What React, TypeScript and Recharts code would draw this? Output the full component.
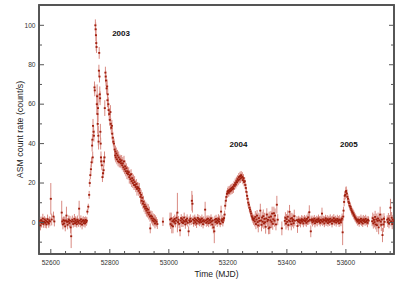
import React from "react";
import { ScatterChart, Scatter, XAxis, YAxis, ErrorBar, ReferenceDot, ReferenceArea } from "recharts";

// [MJD, ASM rate (count/s), 1-sigma error]
type Obs = [number, number, number];

const quiet2002: Obs[] = [
  [52563, 0.8, 2.0], [52565, -1.5, 2.5], [52567, 1.2, 1.8], [52569, -0.4, 2.2], [52571, 0.6, 1.6],
  [52573, 2.0, 2.4], [52575, -0.8, 1.9], [52577, 0.3, 2.1], [52579, 1.5, 1.7], [52581, -0.2, 2.6],
  [52583, 0.9, 1.5], [52585, -1.0, 2.0], [52587, 0.4, 1.8], [52589, 1.7, 2.3], [52591, 0.1, 1.6],
  [52593, -0.6, 2.1], [52595, 1.1, 1.9], [52597, 0.5, 2.4], [52600, 12, 8], [52603, 1.5, 3],
  [52609, 3, 2.5], [52612, 0.5, 2.5],
  [52637, 5, 6], [52639, 0.5, 2], [52641, -1, 2.5], [52643, 1.2, 1.8], [52645, -0.5, 2],
  [52647, 0.8, 2.2], [52649, -2, 2.5], [52651, 1, 1.9], [52653, 3.5, 4.5], [52655, 0.3, 2],
  [52657, -1.2, 2.3], [52659, 0.6, 1.7], [52661, 1.5, 2.1], [52663, -0.3, 2], [52665, 0.9, 2.4],
  [52667, -2.5, 3], [52669, -7, 6], [52671, 0.4, 2], [52673, 1.3, 2.2], [52676, -0.8, 1.8],
  [52678, 0.5, 2], [52680, 1.8, 2.5], [52682, -0.4, 1.9], [52684, 1.1, 2], [52686, 0.2, 2.3],
  [52688, -0.9, 1.7], [52690, 1.4, 2.1], [52692, 0.6, 1.8], [52694, -0.2, 2], [52696, 7, 4],
  [52698, 0.9, 2.2], [52700, -0.6, 1.9], [52702, 1.6, 2], [52704, 0.3, 1.8], [52706, -1.1, 2.4],
  [52708, 0.8, 1.7], [52710, 1.2, 2], [52712, -0.3, 1.9], [52714, 0.7, 2], [52716, -0.5, 2.1],
  [52718, 1.3, 1.8], [52720, 0.2, 2], [52722, 0.9, 1.9],
];

const outburst2003: Obs[] = [
  [52724, 5.5, 1.5], [52727, 8, 1.5], [52730, 14, 2], [52732, 20, 2], [52734, 24, 2],
  [52736, 27, 2.5], [52738, 30.5, 2.5], [52740, 39, 3], [52741, 42, 3], [52742, 33, 3],
  [52743, 49, 3.5], [52745, 46, 3], [52746, 44, 3], [52748, 68.5, 3], [52749, 67, 3],
  [52751, 100, 3], [52752, 98, 3.5], [52753, 95, 3], [52754, 91, 4], [52755, 89, 3],
  [52756, 60, 5], [52757, 64, 6], [52758, 55, 6], [52759, 50, 5], [52760, 58, 7],
  [52761, 44, 5], [52762, 41, 4], [52763, 77, 3], [52764, 86, 3], [52765, 74, 3],
  [52766, 65, 4], [52767, 63, 3.5], [52768, 46, 4], [52769, 40, 3], [52770, 33, 3],
  [52771, 31, 2.5], [52773, 29, 2.5], [52775, 23, 2.5], [52777, 25, 2.5], [52779, 26.5, 2.5],
  [52780, 31, 2.5], [52782, 33, 3], [52783, 58, 4], [52785, 76, 3], [52786, 74, 3],
  [52787, 72, 3], [52789, 68, 3], [52791, 69, 3.5], [52792, 62, 3.5], [52793, 65, 3],
  [52795, 60, 3.5], [52796, 57, 3], [52798, 55, 3], [52800, 52, 3], [52802, 56, 3.5],
  [52803, 50, 3], [52805, 48, 3], [52807, 49, 3], [52808, 45, 3], [52810, 43, 3],
  [52812, 41, 2.5], [52814, 40, 2.5], [52816, 37, 2.5], [52818, 34, 2.5], [52819, 36, 3],
];

const decay2003: Obs[] = [
  [52820, 33, 2.5], [52822, 35, 3], [52824, 32, 2.5], [52826, 34, 2.8], [52828, 31, 2.5],
  [52830, 33, 3], [52832, 30.5, 2.6], [52834, 32, 2.5], [52836, 31, 3], [52838, 30, 2.5],
  [52840, 31.5, 2.7], [52842, 29, 2.5], [52844, 30, 3.2], [52846, 28, 2.5], [52848, 31, 2.8],
  [52850, 27, 2.5], [52852, 28.5, 3], [52854, 26, 2.6], [52856, 27.5, 2.5], [52858, 25, 3],
  [52860, 26, 2.5], [52862, 24.5, 2.8], [52864, 25.5, 2.5], [52866, 23, 3.3], [52868, 24, 2.5],
  [52870, 22, 2.7], [52872, 24.5, 2.5], [52874, 21, 3], [52876, 22.5, 2.6], [52878, 20, 2.5],
  [52880, 21.5, 2.8], [52882, 19, 2.5], [52884, 20.5, 3], [52886, 19, 2.5], [52888, 18, 2.6],
  [52890, 19.5, 2.5], [52892, 17, 3.4], [52894, 18, 2.5], [52896, 17.5, 2.7], [52898, 16, 2.5],
  [52900, 17, 3], [52902, 15, 2.5], [52904, 13, 3.5], [52906, 14, 2.6], [52908, 11, 2.5],
  [52910, 12.5, 2.8], [52912, 9.5, 2.5], [52914, 10.5, 3], [52916, 8, 2.6], [52918, 9, 2.5],
  [52920, 7, 2.8], [52922, 8, 2.5], [52924, 6, 3], [52926, 7, 2.6], [52928, 5, 2.5],
  [52930, 6.5, 2.8], [52932, 4, 2.5], [52934, 5, 3], [52936, 3, 2.6], [52937, -3, 2.5],
  [52939, 3.5, 2.6], [52941, 2, 2.5], [52943, 3, 2.8], [52945, 1, 2.5], [52947, 2, 2.6],
  [52949, 0.5, 2.5], [52951, 1.5, 2.7], [52953, -0.5, 2.5], [52955, 1, 2.6], [52958, 0.3, 2.4],
  [52961, -0.8, 2.5], [52980, 0.4, 2.2],
];

const quiet2003: Obs[] = [
  [53004, 1.5, 3.5], [53006, -0.8, 2.5], [53008, 2.0, 3], [53010, -1.5, 4], [53012, 0.6, 2],
  [53014, -2.0, 3.5], [53016, 1.2, 2], [53018, 0.3, 1.8], [53020, 1.8, 2.2], [53022, -0.5, 2],
  [53024, 0.9, 1.7], [53026, 2.4, 2.3], [53029, 5, 10], [53031, 0.2, 2], [53033, 1.4, 1.9],
  [53035, -0.7, 2.1], [53038, -4, 3], [53040, 1.0, 1.8], [53042, 2.2, 2], [53044, 0.1, 2.4],
  [53046, 1.6, 1.7], [53048, -0.3, 2], [53050, 0.8, 1.9], [53052, 2.5, 2.5], [53054, 0.4, 1.8],
  [53056, -1.0, 2.2], [53058, 1.3, 2], [53060, 0.6, 1.7], [53062, 2.0, 2.1], [53064, -0.2, 1.9],
  [53067, -4.5, 2.5], [53069, 1.1, 2], [53071, 0.3, 1.8], [53073, 1.9, 2.2], [53076, 0.7, 2],
  [53078, 11, 5], [53080, 9.5, 4.5], [53082, 1.5, 2], [53084, -0.4, 1.8], [53086, 0.9, 2.1],
  [53088, 2.1, 1.9], [53090, 0.2, 2], [53092, 1.4, 1.7], [53094, -0.6, 2.2], [53096, 1.0, 1.8],
  [53098, 2.3, 2], [53100, 0.5, 1.9], [53102, 1.7, 2.1], [53104, -0.1, 1.8], [53106, 0.8, 2],
  [53108, 1.5, 1.7], [53110, 0.1, 2.3], [53112, 2.0, 2], [53114, 0.7, 1.8], [53116, -0.9, 2.1],
  [53118, 1.2, 1.9], [53120, 0.4, 2], [53123, 6.5, 4], [53125, 1.0, 1.8], [53127, -0.2, 2],
  [53129, 1.6, 1.9], [53131, 0.5, 2.2], [53133, 1.9, 1.7], [53135, -0.4, 2], [53137, 0.9, 1.8],
  [53139, 1.3, 2.1], [53141, 0.0, 1.9], [53143, 2.1, 2], [53145, 0.6, 1.8], [53147, -1.1, 2.3],
  [53149, 1.0, 1.9], [53151, -2.5, 3], [53154, -4.5, 6], [53156, 1.4, 2], [53158, 0.2, 1.8],
  [53160, 1.8, 2.1], [53162, 0.6, 1.9], [53164, -0.3, 2], [53166, 1.2, 1.7], [53168, 2.0, 2.2],
  [53170, 0.4, 1.9], [53172, 1.5, 2], [53174, -0.6, 1.8], [53177, 5.5, 3], [53179, 0.8, 2],
  [53181, 1.7, 1.9], [53183, 0.1, 2.1], [53185, 1.3, 1.8], [53187, 2.2, 2],
];

const outburst2004: Obs[] = [
  [53189, 4, 2], [53191, 8.5, 2], [53193, 11, 2], [53195, 13, 2.2], [53197, 14.5, 2],
  [53199, 15.5, 2], [53201, 16, 2.3], [53203, 15, 2], [53205, 16.5, 2.1], [53207, 15.8, 2],
  [53209, 17, 2.2], [53211, 16.2, 2], [53213, 17.5, 2.1], [53215, 16.8, 2.3], [53217, 18, 2],
  [53219, 17.2, 2.2], [53221, 19, 2.1], [53223, 18.5, 2], [53225, 20, 2.3], [53227, 19.2, 2],
  [53229, 21, 2.2], [53231, 20.3, 2.1], [53233, 22, 2], [53235, 21.2, 2.3], [53237, 23, 2.1],
  [53239, 21.8, 2], [53241, 23.5, 2.2], [53243, 22.4, 2.4], [53245, 24, 2.1], [53247, 22.8, 2],
  [53249, 23.2, 2.3], [53251, 21.5, 2.1], [53253, 22.5, 2], [53255, 20.5, 2.2], [53257, 21, 2],
  [53259, 19, 2.1], [53261, 17.5, 2.2], [53263, 15.5, 2], [53265, 13.5, 2.1], [53267, 12, 2],
  [53269, 10, 2.2], [53271, 9, 2], [53273, 7.5, 2.1], [53275, 6.5, 2], [53277, 5.5, 2.2],
  [53279, 4.5, 2], [53281, 3.2, 2.1], [53283, 2.5, 2], [53285, 1.8, 2.2], [53287, 1.2, 2.4],
  [53289, 2, 2],
];

const quiet2004: Obs[] = [
  [53291, 0.5, 2.5], [53293, 2.8, 3], [53295, -0.8, 2.6], [53297, 1.5, 3.2], [53299, 3.5, 2.8],
  [53301, 0.2, 3], [53303, -1.5, 3.5], [53305, 2.2, 2.7], [53307, 0.8, 3.1], [53310, 6, 3.5],
  [53312, 1.0, 2.6], [53314, -1.2, 3.3], [53316, 2.5, 2.9], [53318, 0.4, 3], [53320, 3.2, 3.4],
  [53322, -0.5, 2.8], [53324, 1.8, 3.1], [53326, 0.1, 2.7], [53328, -2.2, 3.5], [53330, 2.0, 3],
  [53332, 4.0, 3.2], [53334, 0.6, 2.8], [53336, 1.3, 3.3], [53338, -3, 3], [53340, 2.6, 2.9],
  [53342, -2.5, 3.4], [53344, 1.1, 3], [53346, 3.0, 2.8], [53348, 0.3, 3.2], [53350, 4.5, 3.5],
  [53352, -0.7, 3], [53354, 1.6, 2.9], [53356, 4.7, 3.3], [53358, 0.9, 3], [53360, 3.5, 3.6],
  [53363, -1.0, 3], [53366, 9, 4.5], [53369, 1.4, 2.8], [53383, -3, 3.5],
  [53393, 0.8, 2.5], [53395, 2.4, 2.8], [53397, -0.6, 3], [53399, 1.7, 2.6], [53401, 0.3, 2.9],
  [53403, 2.9, 3.2], [53405, -1.3, 2.7], [53407, 1.0, 3], [53409, 5.4, 3.5], [53411, 0.5, 2.6],
  [53413, 1.9, 2.9], [53415, -0.9, 3.1], [53417, 2.2, 2.7], [53419, 0.7, 2.8], [53421, 1.4, 3],
  [53423, -0.4, 2.6], [53425, 3.2, 3.3], [53427, 0.9, 2.8],
  [53434, 1.2, 2], [53436, -1.8, 3.5], [53438, 0.6, 2.1], [53440, 1.5, 1.9], [53442, 0.2, 2],
  [53444, 1.1, 1.8], [53446, -0.3, 2.2], [53448, 0.9, 1.9], [53450, 1.7, 2], [53452, 0.4, 1.8],
  [53454, 1.3, 2.1], [53456, -0.5, 1.9], [53458, 1.0, 2], [53460, 2.0, 1.8], [53462, 0.6, 2.2],
  [53464, 1.2, 1.9], [53466, -0.2, 2], [53468, 1.8, 2.1], [53470, 0.5, 1.8], [53472, 2.6, 2.5],
  [53474, 0.8, 2], [53476, 5.2, 3.5], [53478, 1.4, 2.1], [53481, -4.5, 3], [53483, 0.9, 2],
  [53485, 1.6, 1.9], [53487, 0.1, 2.1], [53489, 1.2, 1.8], [53491, 0.7, 2], [53493, 1.9, 1.9],
  [53495, -0.4, 2.1], [53497, 1.0, 1.8], [53499, 0.5, 2], [53501, 1.5, 1.9], [53503, 0.2, 2.2],
  [53505, 1.3, 1.8], [53507, 2.0, 2], [53509, 0.6, 1.9], [53511, 1.1, 2.1], [53513, -0.2, 1.8],
  [53515, 1.4, 2], [53517, 0.8, 1.9], [53519, 4.5, 3], [53521, 0.3, 2], [53523, 1.6, 1.8],
  [53525, 0.9, 2.1], [53527, -0.5, 1.9], [53529, 1.2, 2], [53531, 2.1, 1.8], [53533, 0.4, 2.2],
  [53535, 1.0, 1.9], [53537, 1.7, 2], [53539, -0.3, 1.8], [53541, 0.8, 2.1], [53543, 1.5, 1.9],
  [53545, 0.2, 2], [53547, 1.9, 2.2], [53549, 0.6, 1.8], [53551, 1.1, 2], [53553, -0.6, 1.9],
  [53555, 1.4, 2.1], [53557, 0.7, 1.8], [53559, 2.2, 2], [53561, 0.3, 1.9], [53563, 1.0, 2.2],
  [53565, 1.6, 1.8], [53567, -0.1, 2], [53569, 0.9, 1.9], [53571, 1.8, 2.1], [53573, 0.5, 1.8],
  [53575, 1.2, 2], [53577, -0.4, 1.9], [53579, 1.5, 2.2], [53581, 0.8, 1.8], [53583, 0.1, 2],
  [53585, 1.3, 1.9], [53587, 2.0, 2.5], [53589, -5, 6.5],
];

const outburst2005: Obs[] = [
  [53591, 3, 2], [53592, 6, 2], [53594, 10.4, 2.2], [53596, 13.5, 2.3], [53598, 14, 2.2],
  [53600, 15.5, 2.4], [53601, 16, 2.3], [53603, 14.7, 2.2], [53605, 13, 2.1], [53607, 12, 2.3],
  [53609, 10.5, 2.1], [53611, 9.8, 2.2], [53613, 8.5, 2], [53615, 7.9, 2.1], [53617, 7, 2],
  [53619, 6.2, 2.2], [53621, 5.5, 2], [53623, 5, 2.1], [53625, 4.5, 2], [53627, 3.8, 2.2],
  [53629, 3.2, 2], [53631, 2.6, 2.1], [53633, 2.2, 1.9], [53635, 1.6, 2],
];

const quiet2005: Obs[] = [
  [53637, 1.2, 1.9], [53639, 0.4, 2], [53641, 1.5, 1.8], [53643, 0.8, 2.1], [53645, -0.3, 1.9],
  [53647, 1.3, 2], [53649, 0.6, 1.8], [53651, 1.9, 2.1], [53653, 0.2, 1.9], [53655, 1.1, 2],
  [53657, -0.5, 1.8], [53659, 1.6, 2.2], [53661, 0.7, 1.9], [53663, 1.2, 2], [53665, 0.1, 1.8],
  [53667, 1.8, 2.1], [53669, 0.5, 1.9], [53671, 1.0, 2], [53673, -0.2, 2.2], [53675, 1.4, 1.9],
  [53677, 0.9, 2],
  [53689, 0.6, 2.5], [53691, 2.2, 2.8], [53693, -0.5, 2.6], [53695, 1.3, 3], [53697, 0.2, 2.7],
  [53699, 2.8, 3.1], [53701, -1.0, 2.5], [53703, 1.6, 2.9], [53705, -1.4, 3.4], [53707, 0.8, 2.6],
  [53709, 2.0, 3], [53711, -2.5, 3.5], [53713, 1.1, 2.8], [53716, 4, 4], [53718, 0.4, 2.7],
  [53720, -1.2, 3.2], [53722, 1.5, 3], [53724, -6.4, 3.6], [53727, -1.0, 3.8], [53729, 1.9, 2.8],
  [53731, 0.3, 3],
  [53740, 1.4, 2.2], [53742, 0.2, 2.5], [53744, 2.0, 2.8], [53746, -0.6, 2.4], [53748, 1.2, 2.6],
  [53751, 7.5, 4.5], [53753, 0.5, 2.5], [53755, 2.4, 2.9], [53757, -0.8, 2.6], [53759, 1.5, 2.3],
  [53761, 0.6, 2.5],
];

const xTicks = [
  52600, 52650, 52700, 52750, 52800, 52850, 52900, 52950, 53000, 53050, 53100, 53150,
  53200, 53250, 53300, 53350, 53400, 53450, 53500, 53550, 53600, 53650, 53700, 53750,
];
const yTicks = [-10, 0, 10, 20, 30, 40, 50, 60, 70, 80, 90, 100];

const yearLabels = [
  { t: 52838, rate: 96, text: "2003" },
  { t: 53236, rate: 39.5, text: "2004" },
  { t: 53610, rate: 39.5, text: "2005" },
];

const X_DOMAIN = [52560, 53763];
const Y_DOMAIN = [-16, 110.3];

const FRAME = "#555";
const DOT = "#a0200f";
const BAR = "#d98a82";
const FONT = "'Liberation Sans', Arial, Helvetica, sans-serif";

const points = [
  ...quiet2002, ...outburst2003, ...decay2003, ...quiet2003,
  ...outburst2004, ...quiet2004, ...outburst2005, ...quiet2005,
].map(([t, rate, err]) => ({ t, rate, err }));

const isMajorX = (v: number) => v % 200 === 0;
const isMajorY = (v: number) => v % 20 === 0;

function BottomTick({ x, y, payload }: any) {
  const major = isMajorX(payload.value);
  return (
    <g>
      <line x1={x} x2={x} y1={y} y2={y - (major ? 5 : 3)} stroke={FRAME} strokeWidth={1} />
      {major && (
        <text x={x} y={y + 10.8} textAnchor="middle" fontSize={6.6} fill="#333" fontFamily={FONT}>
          {payload.value}
        </text>
      )}
    </g>
  );
}

function TopTick({ x, y, payload }: any) {
  const len = isMajorX(payload.value) ? 5 : 3;
  return <line x1={x} x2={x} y1={y} y2={y + len} stroke={FRAME} strokeWidth={1} />;
}

function LeftTick({ x, y, payload }: any) {
  const major = isMajorY(payload.value);
  return (
    <g>
      <line x1={x} x2={x + (major ? 5 : 3)} y1={y} y2={y} stroke={FRAME} strokeWidth={1} />
      {major && (
        <text x={x - 3.5} y={y} dy="0.35em" textAnchor="end" fontSize={6.6} fill="#333" fontFamily={FONT}>
          {payload.value}
        </text>
      )}
    </g>
  );
}

function RightTick({ x, y, payload }: any) {
  const len = isMajorY(payload.value) ? 5 : 3;
  return <line x1={x} x2={x - len} y1={y} y2={y} stroke={FRAME} strokeWidth={1} />;
}

const frameLine = { stroke: FRAME, strokeWidth: 1.8 };

export default function App() {
  return (
    <div style={{ position: "absolute", left: 0, top: 0, width: 415, height: 289, background: "#fff" }}>
      <ScatterChart width={415} height={289} margin={{ top: 4, right: 20, bottom: 0, left: 0 }}>
        <XAxis
          dataKey="t"
          type="number"
          domain={X_DOMAIN}
          allowDataOverflow
          ticks={xTicks}
          interval={0}
          height={35}
          tickSize={0}
          tickMargin={0}
          tickLine={false}
          axisLine={frameLine}
          tick={BottomTick}
          label={{ value: "Time (MJD)", position: "center", fontSize: 8.5, fill: "#222", fontFamily: FONT, dy: 2 }}
        />
        <XAxis
          xAxisId="top"
          orientation="top"
          type="number"
          domain={X_DOMAIN}
          allowDataOverflow
          ticks={xTicks}
          interval={0}
          height={1}
          tickSize={0}
          tickMargin={0}
          tickLine={false}
          axisLine={frameLine}
          tick={TopTick}
        />
        <YAxis
          dataKey="rate"
          type="number"
          domain={Y_DOMAIN}
          allowDataOverflow
          ticks={yTicks}
          interval={0}
          width={39}
          tickSize={0}
          tickMargin={0}
          tickLine={false}
          axisLine={frameLine}
          tick={LeftTick}
          label={{ value: "ASM count rate (count/s)", angle: -90, position: "center", fontSize: 8.8, fill: "#222", fontFamily: FONT }}
        />
        <YAxis
          yAxisId="right"
          orientation="right"
          type="number"
          domain={Y_DOMAIN}
          allowDataOverflow
          ticks={yTicks}
          interval={0}
          width={1}
          tickSize={0}
          tickMargin={0}
          tickLine={false}
          axisLine={frameLine}
          tick={RightTick}
        />
        <ReferenceArea
          x1={X_DOMAIN[0]}
          x2={X_DOMAIN[1]}
          y1={Y_DOMAIN[0]}
          y2={Y_DOMAIN[1]}
          fill="none"
          fillOpacity={0}
          stroke={FRAME}
          strokeWidth={1.8}
          ifOverflow="visible"
        />
        <Scatter
          data={points}
          isAnimationActive={false}
          shape={(p: any) => <rect x={p.cx - 1} y={p.cy - 0.9} width={2} height={1.8} fill={DOT} />}
        >
          <ErrorBar dataKey="err" direction="y" width={0} stroke={BAR} strokeWidth={1} isAnimationActive={false} />
        </Scatter>
        {yearLabels.map((l) => (
          <ReferenceDot
            key={l.text}
            x={l.t}
            y={l.rate}
            r={0}
            shape={(p: any) => (
              <text x={p.cx} y={p.cy} dy="0.35em" textAnchor="middle" fontSize={8} fontWeight="bold" fill="#111" fontFamily={FONT}>
                {l.text}
              </text>
            )}
          />
        ))}
      </ScatterChart>
    </div>
  );
}
